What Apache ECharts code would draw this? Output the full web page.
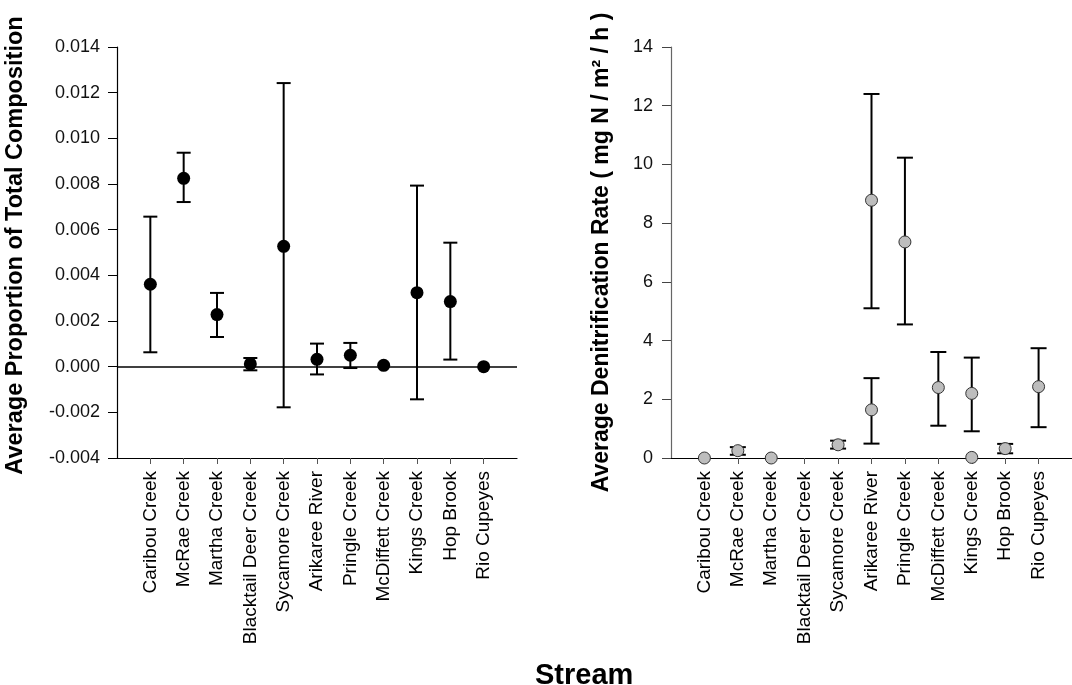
<!DOCTYPE html>
<html>
<head>
<meta charset="utf-8">
<script src="https://cdn.jsdelivr.net/npm/echarts@6/dist/echarts.min.js"></script>
<style>html,body{margin:0;padding:0;background:#fff;}#c{width:1072px;height:685px;}</style>
</head>
<body>
<div id="c"></div>
<script>
const categories = ['Caribou Creek','McRae Creek','Martha Creek','Blacktail Deer Creek','Sycamore Creek','Arikaree River','Pringle Creek','McDiffett Creek','Kings Creek','Hop Brook','Rio Cupeyes'];

// Left panel: average proportion of total composition
const propMean = [0.00361, 0.00825, 0.00228, 0.00012, 0.00527, 0.00032, 0.00050, 0.00006, 0.00324, 0.00285, 0.0];
const propLow  = [0.00063, 0.00721, 0.00130, -0.00016, -0.00178, -0.00034, -0.00006, null, -0.00143, 0.00031, null];
const propHigh = [0.00657, 0.00937, 0.00323, 0.00038, 0.01242, 0.00101, 0.00104, null, 0.00793, 0.00543, null];

// Right panel: average denitrification rate (primary series)
const denMean = [0.0, 0.25, 0.0, null, 0.45, 8.78, 7.36, 2.40, 2.20, 0.32, 2.43];
const denLow  = [null, 0.11, null, null, 0.32, 5.10, 4.55, 1.10, 0.91, 0.16, 1.05];
const denHigh = [null, 0.37, null, null, 0.59, 12.40, 10.23, 3.61, 3.42, 0.48, 3.74];
// Right panel: second measurement
const den2Mean = [null, null, null, null, null, 1.64, null, null, 0.02, null, null];
const den2Low  = [null, null, null, null, null, 0.49, null, null, null, null, null];
const den2High = [null, null, null, null, null, 2.72, null, null, null, null, null];

const propTicks = [-0.004, 0.014, 0.002];
const denTicks = [0, 14, 2];

const FONT = '"Liberation Sans", Arial, sans-serif';
const positions = categories.map((_, i) => i + 1);

function pts(mean) {
  const out = [];
  mean.forEach((v, i) => { if (v !== null) out.push([i + 1, v]); });
  return out;
}
function bars(low, high) {
  const out = [];
  low.forEach((v, i) => { if (v !== null && high[i] !== null) out.push([i + 1, v, high[i]]); });
  return out;
}
function errRender(capHalf) {
  return function (params, api) {
    const x = api.value(0), lo = api.value(1), hi = api.value(2);
    const a = api.coord([x, hi]);
    const b = api.coord([x, lo]);
    const st = { stroke: '#000', lineWidth: 2 };
    return {
      type: 'group',
      children: [
        { type: 'line', shape: { x1: a[0], y1: a[1], x2: b[0], y2: b[1] }, style: st },
        { type: 'line', shape: { x1: a[0] - capHalf, y1: a[1], x2: a[0] + capHalf, y2: a[1] }, style: st },
        { type: 'line', shape: { x1: b[0] - capHalf, y1: b[1], x2: b[0] + capHalf, y2: b[1] }, style: st }
      ]
    };
  };
}

function xAxisCfg(gi) {
  return {
    type: 'value', gridIndex: gi, min: 0, max: 12, interval: 1,
    splitLine: { show: false },
    axisLine: { show: true, onZero: false, lineStyle: { color: '#000', width: 1.2 } },
    axisTick: { show: true, customValues: positions, length: 6, lineStyle: { color: '#555', width: 1 } },
    axisLabel: {
      customValues: positions, rotate: 90, margin: 13,
      formatter: v => categories[Math.round(v) - 1] || '',
      color: '#000', fontFamily: FONT, fontSize: 19
    }
  };
}

const chart = echarts.init(document.getElementById('c'), null, { renderer: 'canvas' });
chart.setOption({
  animation: false,
  backgroundColor: '#fff',
  grid: [
    { left: 117, top: 47, width: 400, height: 411 },
    { left: 671, top: 47, width: 414, height: 411 }
  ],
  xAxis: [xAxisCfg(0), xAxisCfg(1)],
  yAxis: [
    {
      type: 'value', gridIndex: 0, min: propTicks[0], max: propTicks[1], interval: propTicks[2],
      splitLine: { show: false },
      axisLine: { show: true, lineStyle: { color: '#000', width: 1.2 } },
      axisTick: { show: true, length: 9, lineStyle: { color: '#000' } },
      axisLabel: { formatter: v => v.toFixed(3), color: '#111', fontFamily: FONT, fontSize: 18, margin: 17 },
      name: 'Average Proportion of Total Composition',
      nameLocation: 'middle', nameGap: 89, nameRotate: 90,
      nameTextStyle: { fontFamily: FONT, fontSize: 23.5, fontWeight: 'bold', color: '#000', padding: [0, 0, 0, 14] }
    },
    {
      type: 'value', gridIndex: 1, min: denTicks[0], max: denTicks[1], interval: denTicks[2],
      splitLine: { show: false },
      axisLine: { show: true, lineStyle: { color: '#666', width: 1.2 } },
      axisTick: { show: true, length: 9, lineStyle: { color: '#444' } },
      axisLabel: { color: '#111', fontFamily: FONT, fontSize: 18, margin: 18 },
      name: 'Average Denitrification Rate ( mg N / m² / h )',
      nameLocation: 'middle', nameGap: 58, nameRotate: 90,
      nameTextStyle: { fontFamily: FONT, fontSize: 23, fontWeight: 'bold', color: '#000' }
    }
  ],
  graphic: [
    { type: 'text', left: 535, top: 661, style: { text: 'Stream', fontFamily: FONT, fontSize: 29, fontWeight: 'bold', fill: '#000' } }
  ],
  series: [
    {
      type: 'custom', xAxisIndex: 0, yAxisIndex: 0, z: 2,
      renderItem: errRender(7), encode: { x: 0, y: [1, 2] },
      data: bars(propLow, propHigh)
    },
    {
      type: 'scatter', xAxisIndex: 0, yAxisIndex: 0, z: 3,
      symbol: 'circle', symbolSize: 13,
      itemStyle: { color: '#000', opacity: 1 },
      data: pts(propMean),
      markLine: {
        silent: true, symbol: 'none', label: { show: false },
        lineStyle: { color: '#000', width: 1.6, type: 'solid' },
        data: [{ yAxis: 0 }]
      }
    },
    {
      type: 'custom', xAxisIndex: 1, yAxisIndex: 1, z: 2,
      renderItem: errRender(8), encode: { x: 0, y: [1, 2] },
      data: bars(denLow, denHigh)
    },
    {
      type: 'custom', xAxisIndex: 1, yAxisIndex: 1, z: 2,
      renderItem: errRender(8), encode: { x: 0, y: [1, 2] },
      data: bars(den2Low, den2High)
    },
    {
      type: 'scatter', xAxisIndex: 1, yAxisIndex: 1, z: 3,
      symbol: 'circle', symbolSize: 12,
      itemStyle: { color: '#bdbdbd', borderColor: '#333', borderWidth: 1, opacity: 1 },
      data: pts(denMean)
    },
    {
      type: 'scatter', xAxisIndex: 1, yAxisIndex: 1, z: 3,
      symbol: 'circle', symbolSize: 12,
      itemStyle: { color: '#bdbdbd', borderColor: '#333', borderWidth: 1, opacity: 1 },
      data: pts(den2Mean)
    }
  ]
});
</script>
</body>
</html>
